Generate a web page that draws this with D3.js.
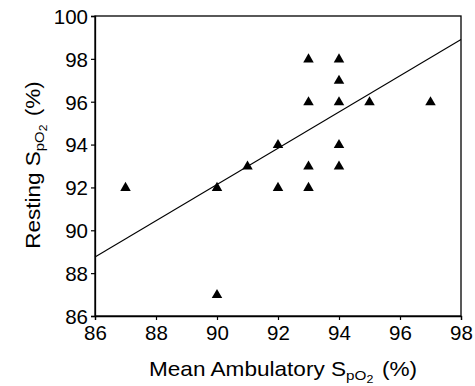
<!DOCTYPE html>
<html><head><meta charset="utf-8">
<script src="https://cdn.jsdelivr.net/npm/d3@7"></script>
<style>body{margin:0;background:#fff}svg{display:block}text{font-family:"Liberation Sans",Arial,sans-serif;fill:#000}</style>
</head><body><svg id="c" width="475" height="386"></svg>
<script>
const ambulatory = [87, 90, 90, 91, 92, 92, 93, 93, 93, 93, 94, 94, 94, 94, 94, 95, 97];
const resting    = [92, 92, 87, 93, 94, 92, 98, 96, 93, 92, 98, 97, 96, 94, 93, 96, 96];
const xTicks = [86, 88, 90, 92, 94, 96, 98];
const yTicks = [86, 88, 90, 92, 94, 96, 98, 100];
const fitX = [86, 98];
const fitY = [88.75, 98.9];

const svg = d3.select("#c");
const m = {l: 95, t: 16, r: 461, b: 316};
const x = d3.scaleLinear().domain([86, 98]).range([m.l, m.r]);
const y = d3.scaleLinear().domain([86, 100]).range([m.b, m.t]);

// frame
svg.append("rect").attr("x", m.l).attr("y", m.t).attr("width", m.r - m.l).attr("height", m.b - m.t)
  .attr("fill", "none").attr("stroke", "#000").attr("stroke-width", 1.3);

const xa = svg.append("g").attr("transform", `translate(0,${m.b})`)
  .call(d3.axisBottom(x).tickValues(xTicks).tickSize(4).tickPadding(5).tickFormat(d3.format("d")));
const ya = svg.append("g").attr("transform", `translate(${m.l},0)`)
  .call(d3.axisLeft(y).tickValues(yTicks).tickSize(4).tickPadding(3).tickFormat(d3.format("d")));
[xa, ya].forEach(a => {
  a.select(".domain").attr("stroke", "#000").attr("stroke-width", 1.3);
  a.selectAll(".tick line").attr("stroke", "#000").attr("stroke-width", 1.2);
  a.selectAll("text").attr("font-size", 20.5).attr("fill", "#000");
});
ya.selectAll("text").attr("dy", "0.36em");

// regression line
svg.append("line").attr("x1", x(fitX[0])).attr("y1", y(fitY[0])).attr("x2", x(fitX[1])).attr("y2", y(fitY[1]))
  .attr("stroke", "#000").attr("stroke-width", 1.1);

// points
const tri = d3.symbol().type(d3.symbolTriangle).size(48);
svg.append("g").selectAll("path").data(ambulatory.map((a, i) => [a, resting[i]])).join("path")
  .attr("d", tri).attr("transform", d => `translate(${x(d[0])},${y(d[1]) + 0.5})`).attr("fill", "#000");

// axis titles
function title(g, pre) {
  g.append("tspan").text(pre + "S");
  g.append("tspan").text("pO").attr("font-size", 13.5).attr("baseline-shift", "-4");
  g.append("tspan").text("2").attr("font-size", 11).attr("baseline-shift", "-7");
  g.append("tspan").text(" (%)").attr("dx", 2);
}
const xt = svg.append("text").attr("transform", `translate(283,376) scale(1.13,1)`).attr("text-anchor", "middle").attr("font-size", 20);
title(xt, "Mean Ambulatory ");
const yt = svg.append("text").attr("transform", `translate(40,165) rotate(-90) scale(1.1,1)`).attr("text-anchor", "middle").attr("font-size", 20.5);
title(yt, "Resting ");
</script></body></html>
